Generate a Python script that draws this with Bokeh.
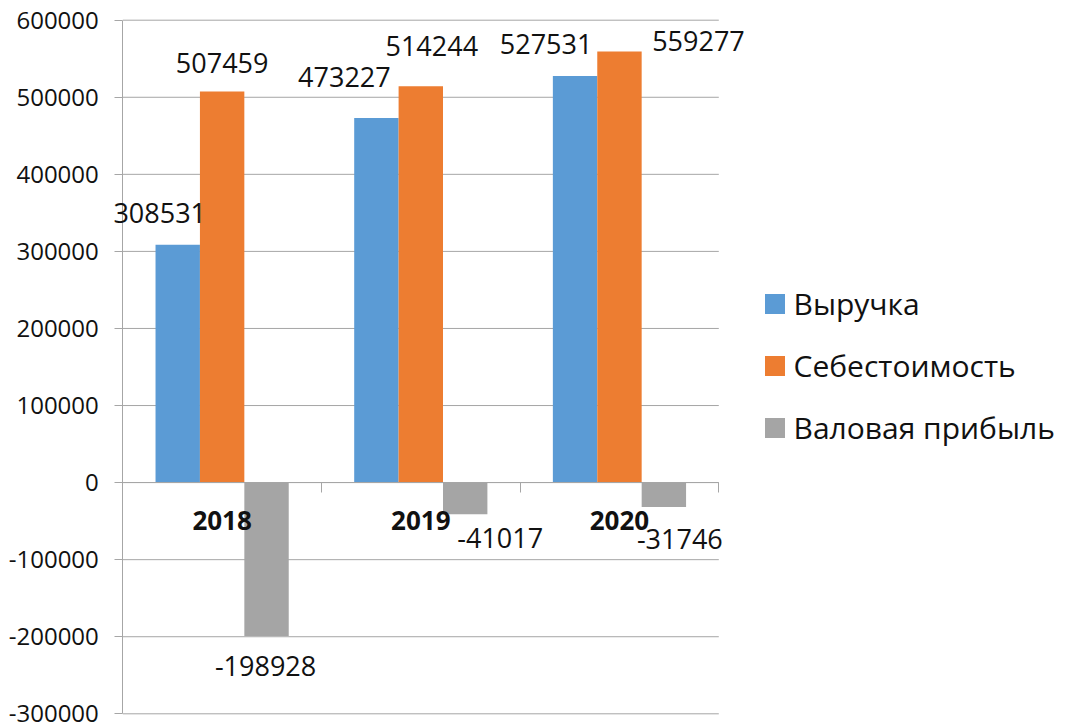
from bokeh.plotting import figure
from bokeh.models import (Range1d, FixedTicker, PrintfTickFormatter, Legend,
                          LegendItem, ColumnDataSource, LabelSet)
from bokeh.core.properties import value
from bokeh.embed import file_html
from bokeh.resources import INLINE

# ---------------- data ----------------
years = ["2018", "2019", "2020"]
revenue = [308531, 473227, 527531]
cost = [507459, 514244, 559277]
gross = [-198928, -41017, -31746]
series_names = ["Выручка", "Себестоимость", "Валовая прибыль"]
series_values = [revenue, cost, gross]
series_colors = ["#5B9BD5", "#ED7D31", "#A5A5A5"]
y_ticks = [-300000, -200000, -100000, 0, 100000, 200000, 300000, 400000, 500000, 600000]

# label nudges in screen pixels (per series, per year); positive dy = up
label_dx = [[-18, -32, -29], [0, 11, 79], [-1, 35, 16]]
label_dy = [[32, 41, 32], [29, 40, 11], [-30, -24, -32]]

FONT = "Open Sans"
TEXT = "#111111"
GRID = "#a6a6a6"

# ---------------- layout (pixels) ----------------
W, H = 1070, 726
PLOT_L, PLOT_R, PLOT_T, PLOT_B = 122.3, 718.3, 19.7, 713.3

n = len(years)
y0, y1 = y_ticks[0], y_ticks[-1]
px_x = (PLOT_R - PLOT_L) / n
px_y = (PLOT_B - PLOT_T) / (y1 - y0)
x_range = Range1d(-PLOT_L / px_x, n + (W - PLOT_R) / px_x)
y_range = Range1d(y0 - (H - PLOT_B) / px_y, y1 + PLOT_T / px_y)

bar_w = 0.2235
offsets = [-bar_w, 0.0, bar_w]

p = figure(width=W, height=H, x_range=x_range, y_range=y_range,
           output_backend="svg", toolbar_location=None,
           min_border=0, min_border_left=0, min_border_right=0,
           min_border_top=0, min_border_bottom=0)
p.outline_line_color = None
p.background_fill_color = "white"
p.border_fill_color = "white"
p.xgrid.visible = False
p.ygrid.visible = False

# horizontal gridlines over the plot area only
p.segment(x0=[0] * len(y_ticks), x1=[n] * len(y_ticks), y0=y_ticks, y1=y_ticks,
          line_color=GRID, line_width=1)

# y axis at x = 0
p.yaxis.fixed_location = 0
p.yaxis.bounds = (y0, y1)
p.yaxis.ticker = FixedTicker(ticks=y_ticks, minor_ticks=[])
p.yaxis.formatter = PrintfTickFormatter(format="%d")
p.yaxis.axis_line_color = GRID
p.yaxis.major_tick_line_color = GRID
p.yaxis.major_tick_out = 8
p.yaxis.major_tick_in = 0
p.yaxis.minor_tick_line_color = None
p.yaxis.major_label_standoff = 16
p.yaxis.major_label_text_font = FONT
p.yaxis.major_label_text_font_size = "24px"
p.yaxis.major_label_text_color = TEXT

# x axis at y = 0
centers = [i + 0.5 for i in range(n)]
bounds = [float(i) for i in range(n + 1)]
p.xaxis.fixed_location = 0
p.xaxis.bounds = (0, n)
p.xaxis.ticker = FixedTicker(ticks=centers, minor_ticks=bounds)
p.xaxis.major_label_overrides = {c: y for c, y in zip(centers, years)}
p.xaxis.axis_line_color = GRID
p.xaxis.major_tick_line_color = None
p.xaxis.major_tick_out = 0
p.xaxis.major_tick_in = 0
p.xaxis.minor_tick_line_color = GRID
p.xaxis.minor_tick_out = 10
p.xaxis.minor_tick_in = 0
p.xaxis.major_label_standoff = 18
p.xaxis.major_label_text_font = FONT
p.xaxis.major_label_text_font_style = "bold"
p.xaxis.major_label_text_font_size = "26px"
p.xaxis.major_label_text_color = TEXT

# bars + labels
items = []
for s, (name, vals, col) in enumerate(zip(series_names, series_values, series_colors)):
    xs = [c + offsets[s] for c in centers]
    src = ColumnDataSource(dict(x=xs, top=vals, txt=[str(v) for v in vals],
                                dx=label_dx[s], dy=label_dy[s]))
    r = p.vbar(x="x", top="top", bottom=0, width=bar_w, source=src,
               fill_color=col, line_color=None)
    labels = LabelSet(x="x", y="top", text="txt", x_offset="dx", y_offset="dy",
                      source=src, text_align="center", text_baseline="middle",
                      text_font=value(FONT), text_font_size="27px", text_color=TEXT)
    p.add_layout(labels)
    items.append(LegendItem(label=name, renderers=[r]))

legend = Legend(items=items, location=(761.5, 278),
                glyph_width=25, glyph_height=25, label_standoff=7,
                label_text_font=FONT, label_text_font_size="30px",
                label_text_color=TEXT, label_height=25,
                spacing=21, padding=0, margin=0,
                border_line_color=None, background_fill_alpha=0)
p.add_layout(legend)

open("out.html", "w").write(file_html(p, INLINE))
